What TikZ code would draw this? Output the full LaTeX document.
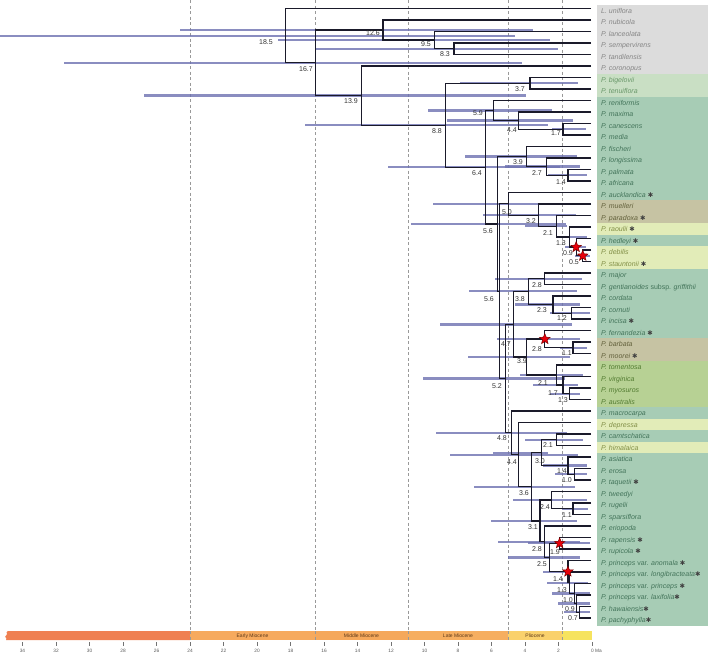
\documentclass[tikz,border=0pt]{standalone}
\usepackage{fontspec}
\setmainfont{Liberation Sans}
\newfontfamily\djv{DejaVu Sans}
\usetikzlibrary{shapes.geometric}
\definecolor{bggray}{HTML}{DCDCDC}
\definecolor{bgpale}{HTML}{C9DFC4}
\definecolor{bgteal}{HTML}{A7CCB5}
\definecolor{bgtan}{HTML}{C6C3A3}
\definecolor{bgyel}{HTML}{E2ECB8}
\definecolor{bgoli}{HTML}{B7D194}
\definecolor{txgray}{HTML}{868686}
\definecolor{txpale}{HTML}{6A986A}
\definecolor{txteal}{HTML}{43745A}
\definecolor{txtan}{HTML}{63613C}
\definecolor{txyel}{HTML}{828F47}
\definecolor{txoli}{HTML}{527B31}
\definecolor{treecol}{HTML}{1A1A2A}
\definecolor{barcol}{HTML}{6D71B0}
\definecolor{starred}{HTML}{E8000B}
\definecolor{stardark}{HTML}{7A0000}
\definecolor{epochtxt}{HTML}{5E3A1A}
\definecolor{eOlig}{HTML}{EF8052}
\definecolor{eEMio}{HTML}{F6AA5E}
\definecolor{eMMio}{HTML}{F5A85B}
\definecolor{eLMio}{HTML}{F6AE60}
\definecolor{ePlio}{HTML}{FAD16C}
\definecolor{ePlei}{HTML}{F6E35F}
\newcommand\hvast{{\upshape\djv\fontsize{6.5}{7}\selectfont\textcolor{black!75}{✱}}}
\begin{document}
\begin{tikzpicture}[x=1pt,y=-1pt,
  tree/.style={draw=treecol, line width=1.3pt},
  hpd/.style={draw=barcol, line width=2.3pt, opacity=0.8},
  agelab/.style={font=\fontsize{7}{8}\selectfont, text=black!80, inner sep=0pt},
  tiplab/.style={anchor=base west, font=\fontsize{7}{8}\selectfont\itshape, inner sep=0pt},
  vdash/.style={draw=gray!80, line width=0.6pt, dash pattern=on 3pt off 2.5pt},
  redstar/.style={star, star points=5, star point ratio=2.3, minimum size=11pt, inner sep=0pt, fill=starred, draw=stardark, line width=0.5pt},
  epoch/.style={font=\fontsize{5}{6}\selectfont, text=epochtxt, inner sep=0pt},
  ticklab/.style={font=\fontsize{4.8}{5}\selectfont, text=black!65, inner sep=0pt},
  tickmark/.style={draw=black!55, line width=0.4pt}]
\useasboundingbox (0,0) rectangle (709,654);

% ---------- row backgrounds ----------
\fill[bggray] (597,4.75) rectangle (708,73.75);
\fill[bgpale] (597,73.75) rectangle (708,96.75);
\fill[bgteal] (597,96.75) rectangle (708,200.25);
\fill[bgtan]  (597,200.25) rectangle (708,223.25);
\fill[bgyel]  (597,223.25) rectangle (708,234.75);
\fill[bgteal] (597,234.75) rectangle (708,246.25);
\fill[bgyel]  (597,246.25) rectangle (708,269.25);
\fill[bgteal] (597,269.25) rectangle (708,338.25);
\fill[bgtan]  (597,338.25) rectangle (708,361.25);
\fill[bgoli]  (597,361.25) rectangle (708,407.25);
\fill[bgteal] (597,407.25) rectangle (708,418.75);
\fill[bgyel]  (597,418.75) rectangle (708,430.25);
\fill[bgteal] (597,430.25) rectangle (708,441.75);
\fill[bgyel]  (597,441.75) rectangle (708,453.25);
\fill[bgteal] (597,453.25) rectangle (708,625.75);

% ---------- dashed epoch lines ----------
\foreach \xx in {190,315,408,508,562} \draw[vdash] (\xx,0) -- (\xx,640);

% ---------- tips ----------
\foreach \i in {0,...,53} \coordinate (t\i) at (591,{8.5+11.5*\i});

% ---------- internal nodes ----------
\coordinate (n83)  at (454.05,48.75);
\coordinate (n95)  at (434.25,40.125);
\coordinate (n126) at (383.1,30.06);
\coordinate (n37)  at (529.95,83.25);
\coordinate (n17a) at (562.95,129.25);
\coordinate (n44a) at (518.4,120.6);
\coordinate (n59)  at (493.65,110.56);
\coordinate (n14a) at (567.9,175.25);
\coordinate (n27)  at (546.45,166.6);
\coordinate (n39a) at (526.65,156.6);
\coordinate (n05a) at (582.75,255.75);
\coordinate (n09a) at (576.15,247.1);
\coordinate (n13a) at (569.55,237.06);
\coordinate (n21a) at (556.35,226.3);
\coordinate (n32)  at (538.2,215.15);
\coordinate (n50)  at (508.5,203.8);
\coordinate (n28a) at (544.8,278.75);
\coordinate (n12)  at (571.2,313.25);
\coordinate (n23)  at (553.05,304.6);
\coordinate (n38)  at (528.3,291.7);
\coordinate (n11a) at (572.85,347.75);
\coordinate (n28b) at (544.8,339.1);
\coordinate (n13b) at (569.55,393.75);
\coordinate (n17b) at (562.95,385.1);
\coordinate (n21b) at (556.35,375.06);
\coordinate (n39b) at (526.65,357.1);
\coordinate (n47)  at (513.45,324.4);
\coordinate (n21c) at (556.35,439.75);
\coordinate (n10a) at (574.5,474.25);
\coordinate (n14b) at (567.9,465.6);
\coordinate (n30)  at (541.5,452.7);
\coordinate (n11b) at (572.85,508.75);
\coordinate (n24)  at (551.4,500.1);
\coordinate (n19)  at (559.65,543.25);
\coordinate (n07)  at (579.45,612.25);
\coordinate (n09b) at (576.15,603.6);
\coordinate (n10b) at (574.5,593.6);
\coordinate (n13c) at (569.55,582.8);
\coordinate (n14c) at (567.9,571.65);
\coordinate (n25)  at (549.75,557.45);
\coordinate (n28c) at (544.8,541.7);
\coordinate (n31)  at (539.85,520.9);
\coordinate (n36)  at (531.6,486.8);
\coordinate (n44b) at (518.4,454.65);
\coordinate (n48)  at (511.8,432.8);
\coordinate (n52)  at (505.2,378.6);
\coordinate (n56b) at (499.6,291.2);
\coordinate (n56a) at (497.4,223.9);
\coordinate (n64)  at (485.4,167.2);
\coordinate (n88)  at (445.8,125.2);
\coordinate (n139) at (361.65,95.6);
\coordinate (n167) at (315.45,62.8);
\coordinate (n185) at (285.75,35.65);

% ---------- HPD bars ----------
\draw[hpd] (0,35.65) -- (515,35.65);
\draw[hpd] (180,30.06) -- (533,30.06);
\draw[hpd] (278,40.125) -- (550,40.125);
\draw[hpd] (316,48.75) -- (558,48.75);
\draw[hpd] (64,62.8) -- (522,62.8);
\draw[hpd] (144,95.6) -- (526,95.6);
\draw[hpd] (460,83.25) -- (578,83.25);
\draw[hpd] (305,125.2) -- (548,125.2);
\draw[hpd] (428,110.56) -- (552,110.56);
\draw[hpd] (447,120.6) -- (573,120.6);
\draw[hpd] (552,129.25) -- (586,129.25);
\draw[hpd] (465,156.6) -- (577,156.6);
\draw[hpd] (388,167.2) -- (560,167.2);
\draw[hpd] (505,166.6) -- (580,166.6);
\draw[hpd] (548,175.25) -- (587,175.25);
\draw[hpd] (433,203.8) -- (570,203.8);
\draw[hpd] (483,215.15) -- (576,215.15);
\draw[hpd] (411,223.9) -- (566,223.9);
\draw[hpd] (525,226.3) -- (567,226.3);
\draw[hpd] (556,237.06) -- (587,237.06);
\draw[hpd] (565,247.1) -- (586,247.1);
\draw[hpd] (575,255.75) -- (590,255.75);
\draw[hpd] (495,278.75) -- (582,278.75);
\draw[hpd] (469,291.2) -- (577,291.2);
\draw[hpd] (515,304.6) -- (580,304.6);
\draw[hpd] (550,313.25) -- (590,313.25);
\draw[hpd] (440,324.4) -- (572,324.4);
\draw[hpd] (497,339.1) -- (580,339.1);
\draw[hpd] (560,347.75) -- (587,347.75);
\draw[hpd] (468,357.1) -- (570,357.1);
\draw[hpd] (520,375.06) -- (583,375.06);
\draw[hpd] (423,378.6) -- (565,378.6);
\draw[hpd] (533,385.1) -- (578,385.1);
\draw[hpd] (550,393.75) -- (580,393.75);
\draw[hpd] (436,432.8) -- (567,432.8);
\draw[hpd] (525,439.75) -- (583,439.75);
\draw[hpd] (450,454.65) -- (578,454.65);
\draw[hpd] (493,452.7) -- (548,452.7);
\draw[hpd] (543,465.6) -- (587,465.6);
\draw[hpd] (555,474.25) -- (587,474.25);
\draw[hpd] (474,486.8) -- (575,486.8);
\draw[hpd] (513,500.1) -- (587,500.1);
\draw[hpd] (562,508.75) -- (588,508.75);
\draw[hpd] (491,520.9) -- (577,520.9);
\draw[hpd] (498,541.7) -- (580,541.7);
\draw[hpd] (528,543.25) -- (590,543.25);
\draw[hpd] (508,557.45) -- (580,557.45);
\draw[hpd] (543,571.65) -- (585,571.65);
\draw[hpd] (547,582.8) -- (588,582.8);
\draw[hpd] (552,593.6) -- (590,593.6);
\draw[hpd] (558,603.6) -- (590,603.6);
\draw[hpd] (564,612.25) -- (590,612.25);

% ---------- tree ----------
\draw[tree] (t3) -| (n83) |- (t4);
\draw[tree] (t2) -| (n95) |- (n83);
\draw[tree] (t1) -| (n126) |- (n95);
\draw[tree] (t6) -| (n37) |- (t7);
\draw[tree] (t10) -| (n17a) |- (t11);
\draw[tree] (t9) -| (n44a) |- (n17a);
\draw[tree] (t8) -| (n59) |- (n44a);
\draw[tree] (t14) -| (n14a) |- (t15);
\draw[tree] (t13) -| (n27) |- (n14a);
\draw[tree] (t12) -| (n39a) |- (n27);
\draw[tree] (t21) -| (n05a) |- (t22);
\draw[tree] (t20) -| (n09a) |- (n05a);
\draw[tree] (t19) -| (n13a) |- (n09a);
\draw[tree] (t18) -| (n21a) |- (n13a);
\draw[tree] (t17) -| (n32) |- (n21a);
\draw[tree] (t16) -| (n50) |- (n32);
\draw[tree] (t23) -| (n28a) |- (t24);
\draw[tree] (t26) -| (n12) |- (t27);
\draw[tree] (t25) -| (n23) |- (n12);
\draw[tree] (n28a) -| (n38) |- (n23);
\draw[tree] (t29) -| (n11a) |- (t30);
\draw[tree] (t28) -| (n28b) |- (n11a);
\draw[tree] (t33) -| (n13b) |- (t34);
\draw[tree] (t32) -| (n17b) |- (n13b);
\draw[tree] (t31) -| (n21b) |- (n17b);
\draw[tree] (n28b) -| (n39b) |- (n21b);
\draw[tree] (n38) -| (n47) |- (n39b);
\draw[tree] (t37) -| (n21c) |- (t38);
\draw[tree] (t40) -| (n10a) |- (t41);
\draw[tree] (t39) -| (n14b) |- (n10a);
\draw[tree] (n21c) -| (n30) |- (n14b);
\draw[tree] (t43) -| (n11b) |- (t44);
\draw[tree] (t42) -| (n24) |- (n11b);
\draw[tree] (t46) -| (n19) |- (t47);
\draw[tree] (t52) -| (n07) |- (t53);
\draw[tree] (t51) -| (n09b) |- (n07);
\draw[tree] (t50) -| (n10b) |- (n09b);
\draw[tree] (t49) -| (n13c) |- (n10b);
\draw[tree] (t48) -| (n14c) |- (n13c);
\draw[tree] (n19) -| (n25) |- (n14c);
\draw[tree] (t45) -| (n28c) |- (n25);
\draw[tree] (n24) -| (n31) |- (n28c);
\draw[tree] (n30) -| (n36) |- (n31);
\draw[tree] (t36) -| (n44b) |- (n36);
\draw[tree] (t35) -| (n48) |- (n44b);
\draw[tree] (n47) -| (n52) |- (n48);
\draw[tree] (n50) -| (n56b) |- (n52);
\draw[tree] (n39a) -| (n56a) |- (n56b);
\draw[tree] (n59) -| (n64) |- (n56a);
\draw[tree] (n37) -| (n88) |- (n64);
\draw[tree] (t5) -| (n139) |- (n88);
\draw[tree] (n126) -| (n167) |- (n139);
\draw[tree] (t0) -| (n185) |- (n167);

% ---------- age labels ----------
\node[agelab] (a185) at (266,42) {18.5};
\node[agelab] (a167) at (306,69) {16.7};
\node[agelab] (a139) at (351,101) {13.9};
\node[agelab] (a126) at (373,33) {12.6};
\node[agelab] (a95)  at (426,44) {9.5};
\node[agelab] (a83)  at (445,54) {8.3};
\node[agelab] (a88)  at (437,131) {8.8};
\node[agelab] (a37)  at (520,89) {3.7};
\node[agelab] (a59)  at (478,113) {5.9};
\node[agelab] (a44a) at (512,130) {4.4};
\node[agelab] (a17a) at (556,133) {1.7};
\node[agelab] (a64)  at (477,173) {6.4};
\node[agelab] (a39a) at (518,162) {3.9};
\node[agelab] (a27)  at (537,173) {2.7};
\node[agelab] (a14a) at (561,182) {1.4};
\node[agelab] (a50)  at (507,212) {5.0};
\node[agelab] (a32)  at (531,221) {3.2};
\node[agelab] (a56a) at (488,231) {5.6};
\node[agelab] (a21a) at (548,233) {2.1};
\node[agelab] (a13a) at (561,243) {1.3};
\node[agelab] (a09a) at (568,253) {0.9};
\node[agelab] (a05a) at (574,262) {0.5};
\node[agelab] (a28a) at (537,285) {2.8};
\node[agelab] (a56b) at (489,299) {5.6};
\node[agelab] (a38)  at (520,299) {3.8};
\node[agelab] (a23)  at (542,310) {2.3};
\node[agelab] (a12)  at (562,318) {1.2};
\node[agelab] (a47)  at (506,344) {4.7};
\node[agelab] (a28b) at (537,349) {2.8};
\node[agelab] (a11a) at (567,353) {1.1};
\node[agelab] (a39b) at (522,361) {3.9};
\node[agelab] (a52)  at (497,386) {5.2};
\node[agelab] (a21b) at (543,383) {2.1};
\node[agelab] (a17b) at (553,393) {1.7};
\node[agelab] (a13b) at (563,400) {1.3};
\node[agelab] (a48)  at (502,438) {4.8};
\node[agelab] (a21c) at (548,445) {2.1};
\node[agelab] (a44b) at (512,462) {4.4};
\node[agelab] (a30)  at (540,461) {3.0};
\node[agelab] (a14b) at (562,471) {1.4};
\node[agelab] (a10a) at (567,480) {1.0};
\node[agelab] (a36)  at (524,493) {3.6};
\node[agelab] (a24)  at (545,507) {2.4};
\node[agelab] (a11b) at (567,515) {1.1};
\node[agelab] (a31)  at (533,527) {3.1};
\node[agelab] (a28c) at (537,549) {2.8};
\node[agelab] (a19)  at (555,552) {1.9};
\node[agelab] (a25)  at (542,564) {2.5};
\node[agelab] (a14c) at (558,579) {1.4};
\node[agelab] (a13c) at (562,590) {1.3};
\node[agelab] (a10b) at (568,600) {1.0};
\node[agelab] (a09b) at (570,609) {0.9};
\node[agelab] (a07)  at (573,618) {0.7};

% ---------- stars ----------
\node[redstar] (s1) at (n09a) {};
\node[redstar] (s2) at (n05a) {};
\node[redstar] (s3) at (n28b) {};
\node[redstar] (s4) at (n19) {};
\node[redstar] (s5) at (n14c) {};

% ---------- tip labels ----------
\node[tiplab,text=txgray] (l0) at (601,13) {L. uniflora};
\node[tiplab,text=txgray] (l1) at (601,24.5) {P. nubicola};
\node[tiplab,text=txgray] (l2) at (601,36) {P. lanceolata};
\node[tiplab,text=txgray] (l3) at (601,47.5) {P. sempervirens};
\node[tiplab,text=txgray] (l4) at (601,59) {P. tandilensis};
\node[tiplab,text=txgray] (l5) at (601,70.5) {P. coronopus};
\node[tiplab,text=txpale] (l6) at (601,82) {P. bigelovii};
\node[tiplab,text=txpale] (l7) at (601,93.5) {P. tenuiflora};
\node[tiplab,text=txteal] (l8) at (601,105) {P. reniformis};
\node[tiplab,text=txteal] (l9) at (601,116.5) {P. maxima};
\node[tiplab,text=txteal] (l10) at (601,128) {P. canescens};
\node[tiplab,text=txteal] (l11) at (601,139.5) {P. media};
\node[tiplab,text=txteal] (l12) at (601,151) {P. fischeri};
\node[tiplab,text=txteal] (l13) at (601,162.5) {P. longissima};
\node[tiplab,text=txteal] (l14) at (601,174) {P. palmata};
\node[tiplab,text=txteal] (l15) at (601,185.5) {P. africana};
\node[tiplab,text=txteal] (l16) at (601,197) {P. aucklandica \hvast};
\node[tiplab,text=txtan] (l17) at (601,208.5) {P. muelleri};
\node[tiplab,text=txtan] (l18) at (601,220) {P. paradoxa \hvast};
\node[tiplab,text=txyel] (l19) at (601,231.5) {P. raoulii \hvast};
\node[tiplab,text=txteal] (l20) at (601,243) {P. hedleyi \hvast};
\node[tiplab,text=txyel] (l21) at (601,254.5) {P. debilis};
\node[tiplab,text=txyel] (l22) at (601,266) {P. stauntonii \hvast};
\node[tiplab,text=txteal] (l23) at (601,277.5) {P. major};
\node[tiplab,text=txteal] (l24) at (601,289) {P. gentianoides {\upshape subsp.} griffithii};
\node[tiplab,text=txteal] (l25) at (601,300.5) {P. cordata};
\node[tiplab,text=txteal] (l26) at (601,312) {P. cornuti};
\node[tiplab,text=txteal] (l27) at (601,323.5) {P. incisa \hvast};
\node[tiplab,text=txteal] (l28) at (601,335) {P. fernandezia \hvast};
\node[tiplab,text=txtan] (l29) at (601,346.5) {P. barbata};
\node[tiplab,text=txtan] (l30) at (601,358) {P. moorei \hvast};
\node[tiplab,text=txoli] (l31) at (601,369.5) {P. tomentosa};
\node[tiplab,text=txoli] (l32) at (601,381) {P. virginica};
\node[tiplab,text=txoli] (l33) at (601,392.5) {P. myosuros};
\node[tiplab,text=txoli] (l34) at (601,404) {P. australis};
\node[tiplab,text=txteal] (l35) at (601,415.5) {P. macrocarpa};
\node[tiplab,text=txyel] (l36) at (601,427) {P. depressa};
\node[tiplab,text=txteal] (l37) at (601,438.5) {P. camtschatica};
\node[tiplab,text=txyel] (l38) at (601,450) {P. himalaica};
\node[tiplab,text=txteal] (l39) at (601,461.5) {P. asiatica};
\node[tiplab,text=txteal] (l40) at (601,473) {P. erosa};
\node[tiplab,text=txteal] (l41) at (601,484.5) {P. taquetii \hvast};
\node[tiplab,text=txteal] (l42) at (601,496) {P. tweedyi};
\node[tiplab,text=txteal] (l43) at (601,507.5) {P. rugelii};
\node[tiplab,text=txteal] (l44) at (601,519) {P. sparsiflora};
\node[tiplab,text=txteal] (l45) at (601,530.5) {P. eriopoda};
\node[tiplab,text=txteal] (l46) at (601,542) {P. rapensis \hvast};
\node[tiplab,text=txteal] (l47) at (601,553.5) {P. rupicola \hvast};
\node[tiplab,text=txteal] (l48) at (601,565) {P. princeps {\upshape var.} anomala \hvast};
\node[tiplab,text=txteal] (l49) at (601,576.5) {P. princeps {\upshape var.} longibracteata\hvast};
\node[tiplab,text=txteal] (l50) at (601,588) {P. princeps {\upshape var.} princeps \hvast};
\node[tiplab,text=txteal] (l51) at (601,599.5) {P. princeps {\upshape var.} laxifolia\hvast};
\node[tiplab,text=txteal] (l52) at (601,611) {P. hawaiensis\hvast};
\node[tiplab,text=txteal] (l53) at (601,622.5) {P. pachyphylla\hvast};

% ---------- time scale ----------
\fill[eOlig] (8,631) .. controls (4.5,632.5) and (9,634) .. (6,635.5)
   .. controls (3.5,637) and (8,638.5) .. (6,640) -- (190,640) -- (190,631) -- cycle;
\fill[eEMio] (190,631) rectangle (315,640);
\fill[eMMio] (315,631) rectangle (408,640);
\fill[eLMio] (408,631) rectangle (508,640);
\fill[ePlio] (508,631) rectangle (562,640);
\fill[ePlei] (562,631) rectangle (592,640);
\foreach \xx in {190,315,408,508,562} \draw[vdash] (\xx,631) -- (\xx,640);
\node[epoch] (e1) at (252.5,635.7) {Early Miocene};
\node[epoch] (e2) at (361.5,635.7) {Middle Miocene};
\node[epoch] (e3) at (458,635.7) {Late Miocene};
\node[epoch] (e4) at (535,635.7) {Pliocene};
\foreach \t in {34,32,...,2} {
  \draw[tickmark] ({592-16.75*\t},642) -- ({592-16.75*\t},645.5);
  \node[ticklab] at ({592-16.75*\t},650.5) {\t};
}
\draw[tickmark] (592,642) -- (592,645.5);
\node[ticklab,anchor=west] (zma) at (590.8,650.5) {0 Ma};
\end{tikzpicture}
\end{document}
